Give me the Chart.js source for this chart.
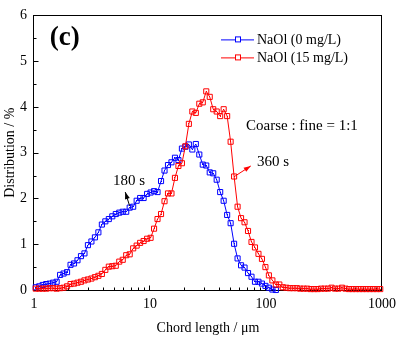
<!DOCTYPE html>
<html>
<head>
<meta charset="utf-8">
<script src="https://cdn.jsdelivr.net/npm/chart.js@4.4.0/dist/chart.umd.min.js"></script>
<style>
  body { margin: 0; background: #fff; }
  canvas { display: block; }
</style>
</head>
<body>
<canvas id="grafico-cuerda" width="402" height="339"></canvas>
<script>
// canales de longitud de cuerda (um), escala log
const chordLength = [
  1.035, 1.109, 1.189, 1.274, 1.365, 1.462, 1.567, 1.679, 1.799, 1.928,
  2.065, 2.213, 2.371, 2.541, 2.723, 2.917, 3.126, 3.350, 3.589, 3.846,
  4.121, 4.416, 4.732, 5.070, 5.433, 5.821, 6.237, 6.683, 7.161, 7.674,
  8.222, 8.810, 9.441, 10.12, 10.84, 11.61, 12.45, 13.34, 14.29, 15.31,
  16.41, 17.58, 18.84, 20.18, 21.63, 23.17, 24.83, 26.61, 28.51, 30.55,
  32.73, 35.08, 37.58, 40.27, 43.15, 46.24, 49.55, 53.09, 56.89, 60.95,
  65.31, 69.98, 74.99, 80.35, 86.10, 92.26, 98.86, 105.9, 113.5, 121.6,
  130.3, 139.6, 149.6, 160.3, 171.8, 184.1, 197.2, 211.3, 226.5, 242.7,
  260.0, 278.6, 298.5, 319.9, 342.8, 367.3, 393.6, 421.7, 451.9, 484.2,
  518.8, 555.9, 595.7, 638.3, 683.9, 732.8, 785.2, 841.4, 901.6, 966.1
];

// NaOl 0 mg/L (180 s)
const naol0 = [
  0.06, 0.08, 0.11, 0.13, 0.14, 0.16, 0.18, 0.33, 0.36, 0.39,
  0.55, 0.58, 0.65, 0.74, 0.80, 0.98, 1.06, 1.15, 1.26, 1.43,
  1.50, 1.55, 1.61, 1.66, 1.69, 1.71, 1.71, 1.80, 1.82, 1.95,
  2.01, 2.01, 2.10, 2.13, 2.16, 2.14, 2.38, 2.61, 2.73, 2.79,
  2.89, 2.84, 3.09, 3.13, 3.18, 3.07, 3.19, 2.96, 2.74, 2.72,
  2.57, 2.55, 2.41, 2.14, 1.95, 1.64, 1.46, 1.01, 0.69, 0.54,
  0.49, 0.37, 0.29, 0.18, 0.18, 0.14, 0.09, 0.05, 0.01, 0.00
];

// NaOl 15 mg/L (360 s)
const naol15 = [
  0.03, 0.03, 0.03, 0.03, 0.04, 0.04, 0.03, 0.04, 0.05, 0.08,
  0.13, 0.14, 0.16, 0.18, 0.21, 0.23, 0.25, 0.28, 0.31, 0.35,
  0.44, 0.51, 0.52, 0.53, 0.62, 0.66, 0.76, 0.78, 0.91, 0.97,
  1.03, 1.07, 1.12, 1.14, 1.34, 1.55, 1.66, 1.94, 2.11, 2.11,
  2.45, 2.71, 2.77, 3.14, 3.63, 3.90, 3.87, 4.07, 4.10, 4.34,
  4.22, 3.95, 3.90, 3.80, 3.95, 3.80, 3.24, 2.48, 1.82, 1.57,
  1.48, 1.29, 1.05, 0.93, 0.79, 0.68, 0.50, 0.32, 0.21, 0.12,
  0.12, 0.06, 0.05, 0.04, 0.04, 0.04, 0.03, 0.03, 0.03, 0.02,
  0.02, 0.02, 0.03, 0.03, 0.03, 0.05, 0.03, 0.03, 0.05, 0.03,
  0.02, 0.02, 0.02, 0.02, 0.02, 0.02, 0.02, 0.02, 0.02, 0.02
];

const seriesLabels = ["NaOl (0 mg/L)", "NaOl (15 mg/L)"];
const seriesColors = ["#0000ff", "#ff0000"];
const xTickLabels = [1, 10, 100, 1000];
const yTickLabels = [0, 1, 2, 3, 4, 5, 6];

const fuente = "'Liberation Serif', 'Times New Roman', serif";

function puntos(valores) {
  return valores.map((v, i) => ({ x: chordLength[i], y: v }));
}

// marco y marcas hacia adentro
const marcoPlugin = {
  id: 'marco',
  beforeDatasetsDraw(chart) {
    const { ctx, chartArea: a, scales: { x, y } } = chart;
    const L = Math.round(a.left) - 0.5, R = Math.round(a.right) - 0.5;
    const T = Math.round(a.top) + 0.5, B = Math.round(a.bottom) + 0.5;
    ctx.save();
    ctx.strokeStyle = '#000';
    ctx.lineWidth = 1;
    ctx.strokeRect(L, T, R - L, B - T);
    ctx.beginPath();
    for (let v = 0; v <= 6; v += 0.5) {
      const py = Math.round(y.getPixelForValue(v)) + 0.5;
      const len = Number.isInteger(v) ? 5 : 3;
      ctx.moveTo(L, py);
      ctx.lineTo(L + len, py);
    }
    for (let d = 1; d <= 1000; d *= 10) {
      for (let m = 1; m < 10; m++) {
        const v = d * m;
        if (v > 1000) break;
        const px = Math.round(x.getPixelForValue(v)) - 0.5;
        ctx.moveTo(px, B);
        ctx.lineTo(px, B - (m === 1 ? 5 : 3));
      }
    }
    ctx.stroke();
    ctx.restore();
  }
};

// puntito en el centro de cada cuadrado
const centroPlugin = {
  id: 'centro',
  afterDatasetsDraw(chart) {
    const ctx = chart.ctx;
    ctx.save();
    chart.data.datasets.forEach((ds, i) => {
      ctx.fillStyle = ds.borderColor;
      chart.getDatasetMeta(i).data.forEach(p => {
        ctx.fillRect(Math.round(p.x - 0.5), Math.round(p.y - 0.5), 1, 1);
      });
    });
    ctx.restore();
  }
};

function flecha(ctx, x1, y1, x2, y2, color) {
  const ang = Math.atan2(y2 - y1, x2 - x1);
  ctx.strokeStyle = color;
  ctx.fillStyle = color;
  ctx.lineWidth = 1;
  ctx.beginPath();
  ctx.moveTo(x1, y1);
  ctx.lineTo(x2, y2);
  ctx.stroke();
  ctx.beginPath();
  ctx.moveTo(x2, y2);
  ctx.lineTo(x2 - 7 * Math.cos(ang) + 2.5 * Math.sin(ang), y2 - 7 * Math.sin(ang) - 2.5 * Math.cos(ang));
  ctx.lineTo(x2 - 7 * Math.cos(ang) - 2.5 * Math.sin(ang), y2 - 7 * Math.sin(ang) + 2.5 * Math.cos(ang));
  ctx.closePath();
  ctx.fill();
}

// leyenda y anotaciones
const notasPlugin = {
  id: 'notas',
  afterDraw(chart) {
    const { ctx, chartArea: a, scales: { x, y } } = chart;
    ctx.save();
    ctx.textBaseline = 'middle';

    // leyenda
    chart.data.datasets.forEach((ds, i) => {
      const ly = a.top + 24 + i * 18;
      const lx = a.right - 161;
      ctx.strokeStyle = ds.borderColor;
      ctx.lineWidth = 1;
      ctx.beginPath();
      ctx.moveTo(lx, ly + 0.5);
      ctx.lineTo(lx + 33, ly + 0.5);
      ctx.stroke();
      ctx.fillStyle = '#fff';
      ctx.fillRect(lx + 14, ly - 2, 5, 5);
      ctx.strokeRect(lx + 14.5, ly - 2.5, 5, 5);
      ctx.fillStyle = '#000';
      ctx.font = '14px ' + fuente;
      ctx.textAlign = 'left';
      ctx.fillText(ds.label, lx + 36, ly + 1);
    });

    ctx.fillStyle = '#000';
    ctx.font = 'bold 27px ' + fuente;
    ctx.textAlign = 'left';
    ctx.fillText('(c)', x.getPixelForValue(1.37), y.getPixelForValue(5.5));

    ctx.font = '15px ' + fuente;
    ctx.fillText('Coarse : fine = 1:1', x.getPixelForValue(67.3), y.getPixelForValue(3.58));

    ctx.textAlign = 'center';
    ctx.fillText('180 s', x.getPixelForValue(6.6), y.getPixelForValue(2.38));
    flecha(ctx, x.getPixelForValue(6.67), y.getPixelForValue(1.84),
                x.getPixelForValue(6.12), y.getPixelForValue(2.14), '#000');

    ctx.textAlign = 'left';
    ctx.fillText('360 s', x.getPixelForValue(83.7), y.getPixelForValue(2.79));
    flecha(ctx, x.getPixelForValue(54.2), y.getPixelForValue(2.49),
                x.getPixelForValue(73.9), y.getPixelForValue(2.71), '#ff0000');
    ctx.restore();
  }
};

const canvas = document.getElementById('grafico-cuerda');
const chart = new Chart(canvas.getContext('2d'), {
  type: 'line',
  data: {
    datasets: [
      {
        label: seriesLabels[0],
        data: puntos(naol0),
        borderColor: seriesColors[0],
        order: 1
      },
      {
        label: seriesLabels[1],
        data: puntos(naol15),
        borderColor: seriesColors[1],
        order: 0
      }
    ].map(ds => Object.assign(ds, {
      backgroundColor: '#ffffff',
      borderWidth: 1,
      pointStyle: 'rect',
      pointRadius: 3.6,
      pointBorderWidth: 1,
      pointBackgroundColor: 'rgba(255,255,255,0)',
      pointBorderColor: ds.borderColor,
      tension: 0,
      clip: 6
    }))
  },
  options: {
    responsive: false,
    animation: false,
    layout: { padding: { left: 0, right: 19, top: 10, bottom: 0 } },
    plugins: {
      legend: { display: false },
      tooltip: { enabled: false }
    },
    scales: {
      x: {
        type: 'logarithmic',
        min: 1,
        max: 1000,
        afterFit: s => { s.height = 49; },
        grid: { display: false, drawTicks: false },
        border: { display: false },
        ticks: {
          autoSkip: false,
          maxRotation: 0,
          padding: 6,
          color: '#000',
          font: { family: fuente, size: 14 },
          callback: v => xTickLabels.includes(v) ? String(v) : ''
        },
        title: {
          display: true,
          text: 'Chord length / μm',
          color: '#000',
          padding: 2,
          font: { family: fuente, size: 14 }
        }
      },
      y: {
        min: 0,
        max: 6,
        afterFit: s => { s.width = 34; },
        grid: { display: false, drawTicks: false },
        border: { display: false },
        ticks: {
          stepSize: 1,
          padding: 7,
          color: '#000',
          font: { family: fuente, size: 14 },
          callback: v => yTickLabels.includes(v) ? String(v) : ''
        },
        title: {
          display: true,
          text: 'Distribution / %',
          color: '#000',
          padding: 2,
          font: { family: fuente, size: 14 }
        }
      }
    }
  },
  plugins: [marcoPlugin, centroPlugin, notasPlugin]
});
</script>
</body>
</html>
